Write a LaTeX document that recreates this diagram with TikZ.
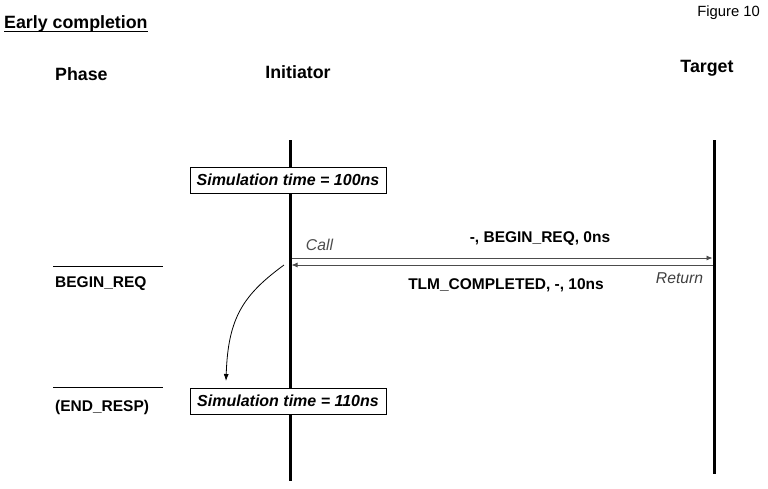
\documentclass[tikz,border=0pt]{standalone}
\usepackage{fontspec}
\setmainfont{Liberation Sans}
\usetikzlibrary{arrows.meta}
\begin{document}
\begin{tikzpicture}[x=1pt,y=-1pt,
  lifeline/.style={line width=3pt},
  timebox/.style={draw,line width=0.8pt,minimum width=196pt,minimum height=26pt,inner sep=0pt,font=\fontsize{16}{18}\selectfont\bfseries\itshape},
  msg/.style={draw=black!70,line width=0.8pt,-{Latex[length=6pt,width=5pt]}},
  lbl/.style={font=\fontsize{15.5}{18}\selectfont\bfseries,inner sep=0pt},
  head/.style={font=\fontsize{17.8}{20}\selectfont\bfseries,inner sep=0pt},
  phaseline/.style={line width=0.8pt}]
\useasboundingbox (0,0) rectangle (768,488);
% titles
\node[font=\fontsize{17.8}{20}\selectfont\bfseries,inner sep=0pt,anchor=base west] (title) at (4,28) {Early completion};
\draw[line width=1.2pt] (title.base west)+(0,3.5) -- ([yshift=-3.5pt]title.base east);
\node[font=\fontsize{14.8}{17}\selectfont,inner sep=0pt,anchor=east] (fig) at (760,13) {Figure 10};
\node[head,anchor=west] (phase) at (55,74) {Phase};
\node[head] (init) at (298,72) {Initiator};
\node[head] (targ) at (707,68) {Target};
% lifelines
\coordinate (iTop) at (290,140);
\coordinate (iBot) at (290,481);
\coordinate (tTop) at (714,140);
\coordinate (tBot) at (714,474);
\draw[lifeline] (iTop) -- (iBot);
\draw[lifeline] (tTop) -- (tBot);
% time boxes
\node[timebox,fill=white] (t100) at (288,180) {Simulation time = 100ns};
\node[timebox,fill=white] (t110) at (288,401) {Simulation time = 110ns};
% messages
\coordinate (callS) at (291.5,258);
\coordinate (callE) at (712.5,258);
\coordinate (retS) at (712.5,265);
\coordinate (retE) at (291.5,265);
\draw[msg] (callS) -- (callE);
\draw[msg] (retS) -- (retE);
\node[font=\fontsize{15.7}{18}\selectfont\itshape,text=black!70,inner sep=0pt] (call) at (319.5,245) {Call};
\node[font=\fontsize{15.7}{18}\selectfont\itshape,text=black!75,inner sep=0pt] (ret) at (679.5,278) {Return};
\node[lbl] (req) at (540,239) {-, BEGIN\_REQ, 0ns};
\node[lbl] (comp) at (506,285) {TLM\_COMPLETED, -, 10ns};
% phases
\coordinate (p1a) at (53,266);
\coordinate (p1b) at (163,266);
\coordinate (p2a) at (53,387);
\coordinate (p2b) at (163,387);
\draw[phaseline] (p1a) -- (p1b);
\draw[phaseline] (p2a) -- (p2b);
\node[lbl,anchor=west] (ph1) at (55,284) {BEGIN\_REQ};
\node[lbl,anchor=west] (ph2) at (55,407) {(END\_RESP)};
% curved arrow
\coordinate (cS) at (284,265);
\coordinate (cE) at (226,381);
\draw[line width=0.8pt,-{Latex[length=7pt,width=5pt]}] (cS) .. controls (243,295) and (228,318) .. (cE);
\end{tikzpicture}
\end{document}
